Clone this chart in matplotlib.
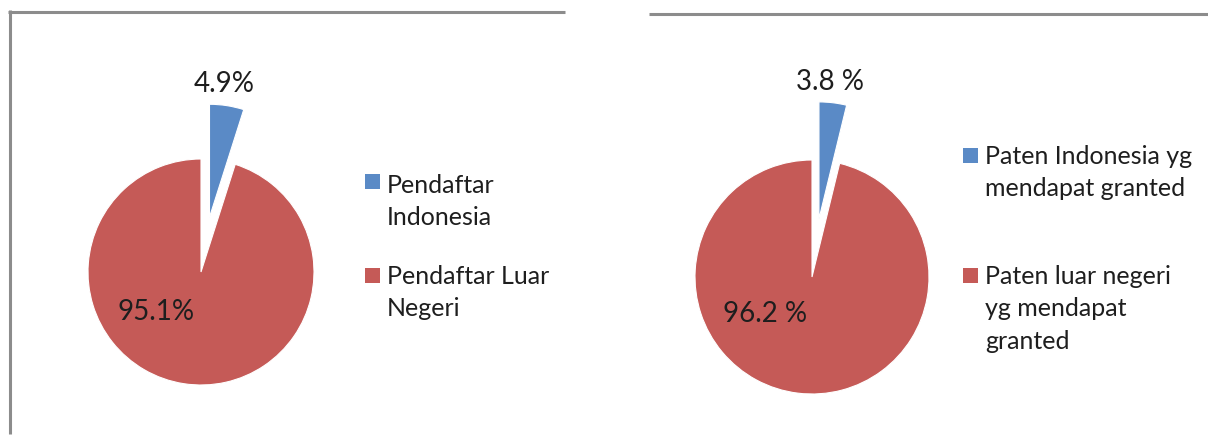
import matplotlib
matplotlib.use("Agg")
import matplotlib.pyplot as plt
from matplotlib.patches import Rectangle

# ---------------- data ----------------
left_labels = ["Pendaftar\nIndonesia", "Pendaftar Luar\nNegeri"]
left_values = [4.9, 95.1]
right_labels = ["Paten Indonesia yg\nmendapat granted",
                "Paten luar negeri\nyg mendapat\ngranted"]
right_values = [3.8, 96.2]
colors = ["#5A8AC6", "#C55A57"]

# ---------------- layout ----------------
W, H = 1208, 443
FS = 18          # legend font, pt
FS_PCT = 20      # percent label font, pt
LSP = 1.5        # legend line spacing factor
LINE_PX = 33     # resulting px between legend lines
TC = "#1e1e1e"
LINE = "#8c8c8c"

plt.rcParams["font.family"] = ["Lato", "DejaVu Sans"]
fig = plt.figure(figsize=(W / 100, H / 100), dpi=100)
ax = fig.add_axes([0, 0, 1, 1])


def Y(y):
    return H - y


def draw(center, r, values, explode_frac, pct_pos, sep, sq_x, sq_ys, base_ys, labels):
    wedges, _ = ax.pie(values, colors=colors, startangle=90, counterclock=False,
                       explode=[explode_frac * r, 0], center=(center[0], Y(center[1])),
                       radius=r, wedgeprops=dict(edgecolor="white", linewidth=0.8))
    for v, (px, py) in zip(values, pct_pos):
        ax.text(px, Y(py), f"{v:.1f}{sep}%", ha="center", va="baseline",
                fontsize=FS_PCT, color=TC)
    for w, lab, sy, by in zip(wedges, labels, sq_ys, base_ys):
        ax.add_patch(Rectangle((sq_x, Y(sy + 15)), 15, 15,
                               facecolor=w.get_facecolor(), edgecolor="none"))
        last_base = by + lab.count("\n") * LINE_PX
        ax.text(sq_x + 22, Y(last_base), lab, ha="left", va="baseline",
                fontsize=FS, color=TC, linespacing=LSP)


draw((201, 272), 113, left_values, 0.49, [(224, 92), (156, 320)], "",
     365, [174, 268], [192, 283], left_labels)
draw((812, 277), 117, right_values, 0.5, [(830, 90), (765, 322)], " ",
     963, [148, 268], [163, 283], right_labels)

# frame lines
ax.plot([9.5, 9.5], [Y(10), Y(434)], color=LINE, lw=2.2, solid_capstyle="butt")
ax.plot([8, 565], [Y(11.5), Y(11.5)], color=LINE, lw=2.2, solid_capstyle="butt")
ax.plot([649, 1208], [Y(13.5), Y(13.5)], color=LINE, lw=2.2, solid_capstyle="butt")

ax.set_xlim(0, W)
ax.set_ylim(0, H)
ax.set_aspect("equal")
ax.axis("off")

fig.savefig("out.png", dpi=100)
